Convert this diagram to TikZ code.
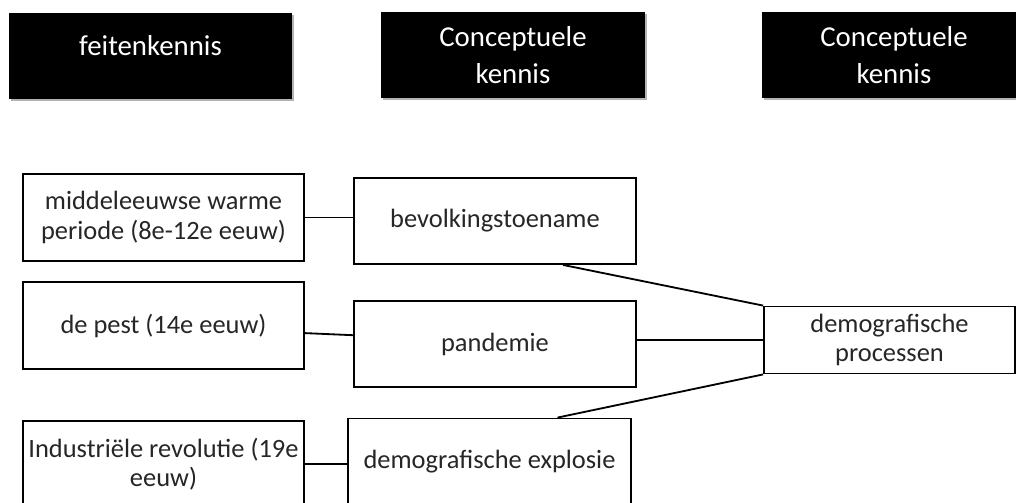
\documentclass[tikz,border=0pt]{standalone}
\usepackage{fontspec}
\setmainfont{Carlito}
\usepackage{xcolor}
\usepackage{tikz}
\usetikzlibrary{shapes.geometric, arrows, shadows, calc}
\newcommand{\bodyfont}{\fontsize{18.8}{21}\selectfont}
\newcommand{\headfont}{\fontsize{20.5}{26.5}\selectfont}
\tikzstyle{header} = [rectangle, minimum width=6.6cm, minimum height=2.15cm, text centered, align=center, fill=black, text=white, font=\headfont, drop shadow={shadow xshift=1.5pt, shadow yshift=-1.5pt, fill=gray, opacity=0.6}]
\tikzstyle{concept} = [rectangle, minimum width=7.05cm, minimum height=2.15cm, text centered, align=center, draw=black, line width=1.3pt, fill=white, text=black!85, font=\bodyfont]
\tikzstyle{link} = [line width=1.3pt]

\begin{document}
\begin{tikzpicture}[node distance=2.5cm]
    \useasboundingbox (0,0) rectangle (25.4,-12.55);
    \clip (0,0) rectangle (25.4,-12.55);

    % Headers
    \node[header, minimum width=7.075cm, text height=1.05cm, text depth=1.1cm, inner ysep=0pt] (feiten) at (3.7625,-1.4) {feitenkennis};
    \node[header, right of=feiten, node distance=9.0625cm, yshift=0.025cm] (concept1) {Conceptuele\\kennis};
    \node[header, right of=concept1, node distance=9.525cm] (concept2) {Conceptuele\\kennis};

    % Feiten
    \node[concept, minimum width=7.025cm, minimum height=2.175cm] (middel) at (4.0875,-5.4375) {middeleeuwse warme\\periode (8e-12e eeuw)};
    \node[concept, minimum width=7.025cm, minimum height=2.175cm, below of=middel, node distance=2.7cm] (pest) {de pest (14e eeuw)};
    \node[concept, minimum width=7.025cm, below of=pest, node distance=3.4625cm] (industrie) {Industriële revolutie (19e\\eeuw)};

    % Concepten
    \node[concept, right of=middel, node distance=8.2875cm, yshift=-0.0875cm] (bevolking) {bevolkingstoename};
    \node[concept, below of=bevolking, node distance=3.075cm] (pandemie) {pandemie};
    \node[concept, minimum width=7.075cm, right of=industrie, node distance=8.15cm, yshift=0.0625cm] (explosie) {demografische explosie};
    \node[concept, minimum width=6.275cm, minimum height=1.675cm, right of=pandemie, node distance=9.8625cm, yshift=0.1cm] (processen) {demografische\\processen};

    % Connections
    \draw[link] (middel.east) -- (middel.east -| bevolking.west);
    \draw[link] ([yshift=-0.19cm]pest.east) -- ([yshift=0.22cm]pandemie.west);
    \draw[link] (industrie.east) -- (industrie.east -| explosie.west);
    \draw[link] ([xshift=1.7cm]bevolking.south) -- (processen.north west);
    \draw[link] (processen.west) -- (processen.west -| pandemie.east);
    \draw[link] ([xshift=1.7cm]explosie.north) -- (processen.south west);

\end{tikzpicture}
\end{document}
